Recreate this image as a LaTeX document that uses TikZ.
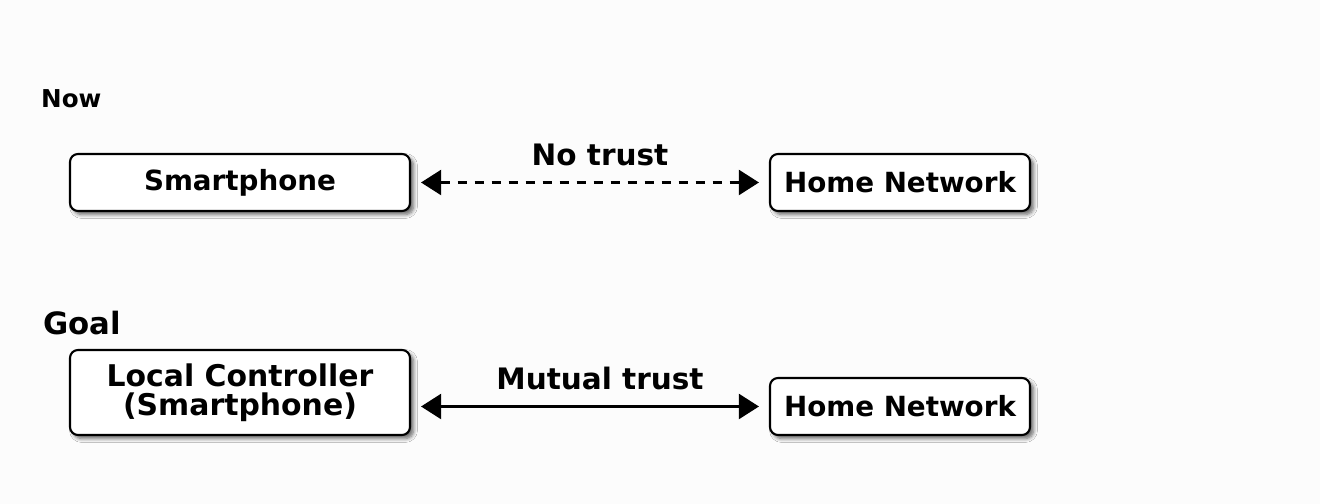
\documentclass[tikz,border=0pt]{standalone}
\usepackage{fontspec}
\setmainfont{DejaVu Sans}
\usetikzlibrary{shadows.blur,arrows.meta}

\tikzset{
  box/.style={rectangle,rounded corners=0.16cm,draw=black,line width=1.2pt,fill=white,
    font=\bfseries\fontsize{15.8}{17}\selectfont,
    blur shadow={shadow xshift=0.07cm,shadow yshift=-0.07cm,shadow blur steps=6,shadow opacity=60}},
  trust/.style={{Triangle[length=0.4cm,width=0.5cm]}-{Triangle[length=0.4cm,width=0.5cm]},
    line width=1.2pt,shorten <=0.2cm,shorten >=0.2cm},
  lbl/.style={font=\bfseries\fontsize{16.8}{19}\selectfont},
}

\begin{document}
\begin{tikzpicture}

%BACKGROUND
\fill[black!1] (0,0) rectangle (26.4,10.08);
%BACKGROUND

\node[anchor=west,font=\bfseries\fontsize{14}{16}\selectfont](v0) at (0.7,8.1) {Now};
\node[box,minimum width=6.8cm,minimum height=1.14cm](v1) at (4.8,6.43) {Smartphone};
\node[box,minimum width=5.2cm,minimum height=1.14cm](v2) at (18,6.43) {Home Network};

\node[anchor=west,font=\bfseries\fontsize{17.5}{19}\selectfont](v3) at (0.74,3.62) {Goal};
\node[box,minimum width=6.8cm,minimum height=1.7cm,align=center,
  font=\bfseries\fontsize{17}{16.4}\selectfont](v4) at (4.8,2.23) {Local Controller\\(Smartphone)};
\node[box,minimum width=5.2cm,minimum height=1.14cm](v5) at (18,1.95) {Home Network};

\draw[trust,dash pattern=on 0.18cm off 0.16cm] (v1) -- node[above=0.2cm,xshift=0.2cm,lbl]{No trust} (v2);
\draw[trust] (v4.east |- v5) -- node[above=0.2cm,xshift=0.2cm,lbl]{Mutual trust} (v5);

\end{tikzpicture}
\end{document}
